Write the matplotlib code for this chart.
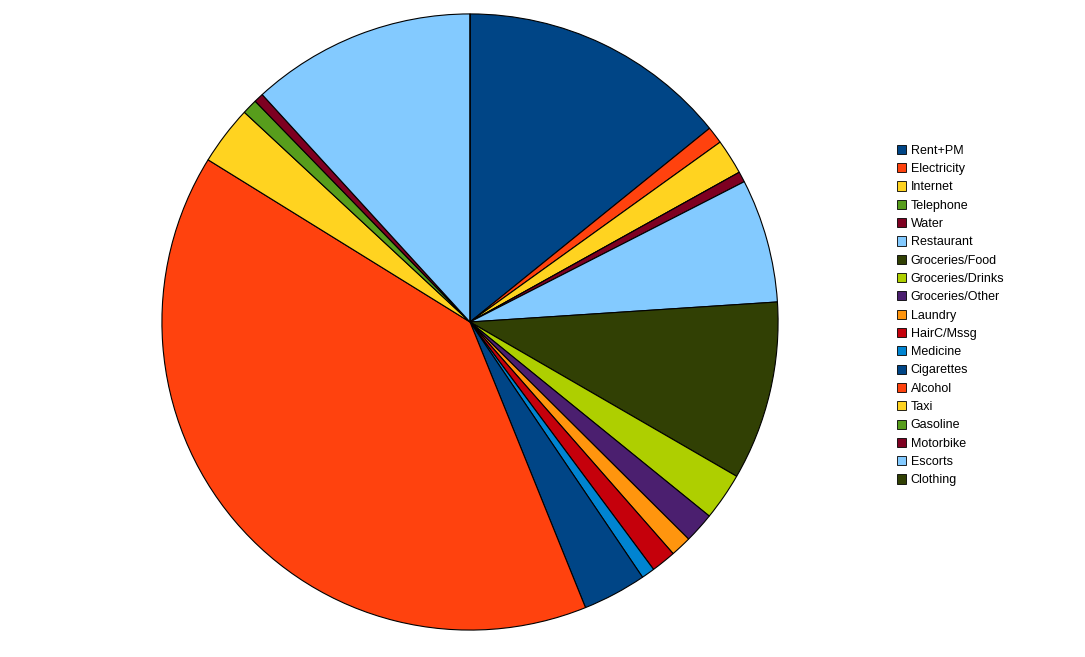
import matplotlib
matplotlib.use('Agg')
import matplotlib.pyplot as plt

# expense categories and their share (%)
categories = ['Rent+PM', 'Electricity', 'Internet', 'Telephone', 'Water', 'Restaurant',
              'Groceries/Food', 'Groceries/Drinks', 'Groceries/Other', 'Laundry',
              'HairC/Mssg', 'Medicine', 'Cigarettes', 'Alcohol', 'Taxi', 'Gasoline',
              'Motorbike', 'Escorts', 'Clothing']
values = [14.2, 0.9, 1.85, 0.0, 0.55, 6.5, 9.4, 2.5, 1.6, 1.1, 1.3, 0.7, 3.35, 40.0,
          3.1, 0.8, 0.5, 11.8, 0.0]

palette = ['#004586', '#ff420e', '#ffd320', '#579d1c', '#7e0021', '#83caff',
           '#314004', '#aecf00', '#4b1f6f', '#ff950e', '#c5000b', '#0084d1']
colors = [palette[i % len(palette)] for i in range(len(categories))]

plt.rcParams['font.family'] = ['Liberation Sans', 'DejaVu Sans']

W, H = 1085, 657
fig = plt.figure(figsize=(W / 100, H / 100), dpi=100)

# pie centre (470, 322), radius ~308 px
cx, cy, r = 470, 322, 309
ax = fig.add_axes([(cx - r) / W, (H - cy - r) / H, 2 * r / W, 2 * r / H])
wedges, _ = ax.pie(values, colors=colors, startangle=90, counterclock=False,
                   wedgeprops=dict(edgecolor='black', linewidth=0.8))
ax.set_xlim(-1.003, 1.003)
ax.set_ylim(-1.003, 1.003)
ax.set_aspect('equal')
ax.axis('off')

leg = fig.legend(wedges, categories, loc='upper left',
                 bbox_to_anchor=(888 / W, 1 - 136 / H), frameon=False,
                 fontsize=9, handlelength=0.75, handleheight=0.75,
                 handletextpad=0.35, labelspacing=0.505, borderpad=0.2)
for h in leg.legend_handles:
    h.set_edgecolor('black')
    h.set_linewidth(0.6)

fig.savefig('out.png', dpi=100)
